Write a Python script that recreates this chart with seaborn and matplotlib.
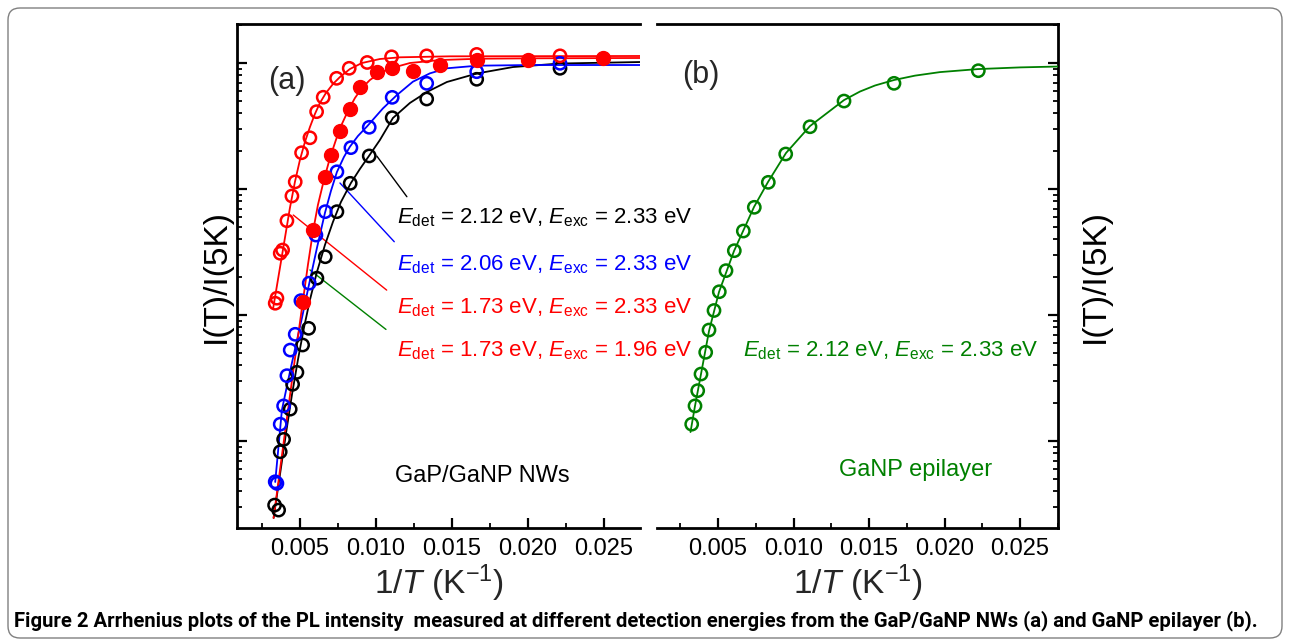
import matplotlib
matplotlib.use('Agg')
import matplotlib.pyplot as plt
from matplotlib.ticker import MultipleLocator, FormatStrFormatter, NullFormatter
from matplotlib.patches import FancyBboxPatch
import seaborn as sns

# x values are 1/T (K^-1), y values are I(T)/I(5K)

# (a) GaP/GaNP NWs, measured points
black_x = [0.003335, 0.003599, 0.003704, 0.003928, 0.004362, 0.004520, 0.004803, 0.005178, 0.005572,
           0.006118, 0.006665, 0.007434, 0.008309, 0.00956, 0.01107, 0.01334, 0.01663, 0.02211]
black_y = [0.00031, 0.000283, 0.000822, 0.00103, 0.00179, 0.00282, 0.00351, 0.00578, 0.00784,
           0.0196, 0.0290, 0.0661, 0.111, 0.183, 0.368, 0.518, 0.743, 0.908]

blue_x = [0.003375, 0.003487, 0.003704, 0.003928, 0.004145, 0.004362, 0.004691, 0.005066, 0.005612,
          0.006053, 0.006665, 0.007434, 0.008355, 0.00956, 0.01107, 0.01334, 0.01663, 0.02211]
blue_y = [0.000475, 0.000461, 0.00136, 0.0019, 0.0033, 0.00527, 0.00703, 0.0130, 0.0179,
          0.0431, 0.0661, 0.137, 0.213, 0.309, 0.534, 0.690, 0.853, 0.995]

red_open_x = [0.003375, 0.003487, 0.003704, 0.003862, 0.004145, 0.004474, 0.004691, 0.00511, 0.005658,
              0.006099, 0.006533, 0.007414, 0.008243, 0.009428, 0.01103, 0.01334, 0.01663, 0.02211]
red_open_y = [0.0124, 0.0136, 0.0309, 0.0328, 0.0560, 0.0880, 0.114, 0.194, 0.255,
              0.411, 0.535, 0.756, 0.908, 1.01, 1.12, 1.14, 1.17, 1.14]

red_fill_x = [0.005178, 0.005836, 0.006665, 0.00704, 0.007632, 0.008289, 0.008947, 0.01005, 0.01103,
              0.01241, 0.01421, 0.01663, 0.01998, 0.02492]
red_fill_y = [0.0128, 0.0473, 0.125, 0.186, 0.290, 0.429, 0.648, 0.844, 0.908,
              0.869, 0.964, 1.06, 1.06, 1.10]

# (a) fitted curves
black_fit_x = [0.00327, 0.003684, 0.004079, 0.004474, 0.004868, 0.005263, 0.005658, 0.006118, 0.006645,
               0.007171, 0.007697, 0.008355, 0.008947, 0.00954, 0.010263, 0.011118, 0.012237, 0.013355,
               0.014671, 0.016645, 0.019013, 0.022105, 0.02737]
black_fit_y = [0.000245, 0.000537, 0.001137, 0.002318, 0.004395, 0.00789, 0.01316, 0.0219, 0.0359,
               0.0547, 0.0788, 0.1116, 0.1442, 0.1828, 0.245, 0.366, 0.482, 0.589,
               0.707, 0.826, 0.929, 0.991, 1.018]

blue_fit_x = [0.003375, 0.003816, 0.004342, 0.004737, 0.005132, 0.005592, 0.006118, 0.006645, 0.00704,
              0.007434, 0.007895, 0.008289, 0.008816, 0.009408, 0.010461, 0.011382, 0.012434, 0.013553,
              0.014671, 0.016645, 0.020132, 0.02737]
blue_fit_y = [0.000473, 0.001762, 0.003531, 0.00578, 0.00946, 0.0173, 0.0340, 0.0645, 0.0964,
              0.1364, 0.1795, 0.2167, 0.2634, 0.3133, 0.4365, 0.557, 0.711, 0.828,
              0.908, 0.952, 0.964, 0.964]

red_open_fit_x = [0.003243, 0.003684, 0.004013, 0.004342, 0.004671, 0.005, 0.005329, 0.005658, 0.005987,
                  0.006316, 0.006711, 0.007171, 0.007632, 0.008289, 0.009079, 0.010263, 0.011579, 0.014868,
                  0.02737]
red_open_fit_y = [0.01137, 0.0236, 0.0408, 0.0707, 0.1137, 0.1699, 0.236, 0.310, 0.394,
                  0.482, 0.578, 0.681, 0.774, 0.896, 1.0, 1.076, 1.11, 1.13,
                  1.137]

red_fill_fit_x = [0.00327, 0.004013, 0.004671, 0.005178, 0.005526, 0.005855, 0.006184, 0.006579, 0.006974,
                  0.007368, 0.007763, 0.008158, 0.008618, 0.009079, 0.009605, 0.010263, 0.011053, 0.012237,
                  0.014211, 0.016842, 0.020789, 0.02737]
red_fill_fit_y = [0.000245, 0.001157, 0.00448, 0.01245, 0.02494, 0.0456, 0.0747, 0.1178, 0.1762,
                  0.245, 0.328, 0.416, 0.527, 0.633, 0.733, 0.833, 0.913, 1.0,
                  1.056, 1.082, 1.09, 1.096]

# (b) GaNP epilayer
green_x = [0.003258, 0.003477, 0.003656, 0.003874, 0.004185, 0.004404, 0.004735, 0.005086, 0.00553,
           0.00608, 0.006676, 0.007404, 0.008331, 0.009484, 0.011093, 0.013345, 0.016656, 0.02224]
green_y = [0.00136, 0.0019, 0.00251, 0.0034, 0.00506, 0.0076, 0.01086, 0.0153, 0.0225,
           0.0324, 0.0464, 0.0716, 0.113, 0.1896, 0.312, 0.499, 0.690, 0.869]

green_fit_x = [0.003179, 0.003477, 0.003874, 0.004404, 0.005066, 0.00606, 0.007384, 0.008311, 0.009503,
               0.011093, 0.013345, 0.014405, 0.015398, 0.016656, 0.018047, 0.019702, 0.02222, 0.025,
               0.02752]
green_fit_y = [0.001178, 0.0019, 0.0034, 0.00746, 0.01523, 0.0322, 0.0720, 0.1137, 0.193,
               0.316, 0.508, 0.594, 0.663, 0.733, 0.794, 0.847, 0.895, 0.923,
               0.938]

labels_a = [r'$E_{\rm det}$ = 2.12 eV, $E_{\rm exc}$ = 2.33 eV',
            r'$E_{\rm det}$ = 2.06 eV, $E_{\rm exc}$ = 2.33 eV',
            r'$E_{\rm det}$ = 1.73 eV, $E_{\rm exc}$ = 2.33 eV',
            r'$E_{\rm det}$ = 1.73 eV, $E_{\rm exc}$ = 1.96 eV']
label_b = r'$E_{\rm det}$ = 2.12 eV, $E_{\rm exc}$ = 2.33 eV'
caption = ('Figure 2 Arrhenius plots of the PL intensity  measured at different detection energies '
           'from the GaP/GaNP NWs (a) and GaNP epilayer (b).')

RED = '#ff0000'
BLUE = '#0000ff'
GREEN = '#008000'


def style_axis(ax, side):
	ax.set_yscale('log')
	ax.set_ylim(2.04e-4, 2.04)
	ax.xaxis.set_major_locator(MultipleLocator(0.005))
	ax.xaxis.set_minor_locator(MultipleLocator(0.0025))
	ax.xaxis.set_major_formatter(FormatStrFormatter('%.3f'))
	ax.yaxis.set_major_formatter(NullFormatter())
	ax.yaxis.set_minor_formatter(NullFormatter())
	for s in ax.spines.values():
		s.set_linewidth(2.0)
		s.set_color('black')
	ax.tick_params(which='both', direction='in', top=False, bottom=True,
	               left=(side == 'left'), right=(side == 'right'),
	               labelleft=False, labelright=False, labelsize=17, colors='black', pad=7)
	ax.tick_params(which='major', length=7.5, width=1.6)
	ax.tick_params(which='minor', length=3.8, width=1.3)
	ax.set_xlabel(r'1/$T$ (K$^{-1}$)', fontsize=24, labelpad=2)
	ax.grid(False)


def open_pts(ax, x, y, color):
	sns.scatterplot(x=x, y=y, ax=ax, marker='o', s=78, facecolor='none',
	                edgecolor=color, linewidth=1.8, zorder=4)


def fit_line(ax, x, y, color):
	sns.lineplot(x=x, y=y, ax=ax, color=color, lw=1.3, sort=False, estimator=None, zorder=3)


def main():
	sns.set_theme(style='ticks')
	plt.rcParams['font.family'] = ['Liberation Sans', 'DejaVu Sans']
	plt.rcParams['mathtext.fontset'] = 'custom'
	plt.rcParams['mathtext.rm'] = 'Liberation Sans'
	plt.rcParams['mathtext.it'] = 'Liberation Sans:italic'
	plt.rcParams['mathtext.bf'] = 'Liberation Sans:bold'

	fig = plt.figure(figsize=(12.9, 6.4), dpi=100)
	fig.patch.set_facecolor('white')
	ax1 = fig.add_axes([0.1837, 0.175, 0.3124, 0.7875])
	ax2 = fig.add_axes([0.5093, 0.175, 0.3109, 0.7875])
	ax1.patch.set_visible(False)
	ax2.patch.set_visible(False)

	# panel (a)
	ax1.set_yscale('log')
	fit_line(ax1, black_fit_x, black_fit_y, 'black')
	fit_line(ax1, blue_fit_x, blue_fit_y, BLUE)
	fit_line(ax1, red_open_fit_x, red_open_fit_y, RED)
	fit_line(ax1, red_fill_fit_x, red_fill_fit_y, RED)
	open_pts(ax1, black_x, black_y, 'black')
	open_pts(ax1, blue_x, blue_y, BLUE)
	open_pts(ax1, red_open_x, red_open_y, RED)
	sns.scatterplot(x=red_fill_x, y=red_fill_y, ax=ax1, marker='o', s=100,
	                facecolor=RED, edgecolor=RED, linewidth=1.0, zorder=5)
	style_axis(ax1, 'left')
	ax1.set_xlim(0.00086, 0.02737)
	ax1.spines['right'].set_visible(False)
	ax1.set_ylabel('I(T)/I(5K)', fontsize=24, labelpad=4, color='black')

	ann_colors = ['black', BLUE, RED, RED]
	ann_y = [0.605, 0.512, 0.425, 0.341]
	for lab, c, yy in zip(labels_a, ann_colors, ann_y):
		ax1.text(0.396, yy, lab, transform=ax1.transAxes, fontsize=16, color=c,
		         ha='left', va='baseline', zorder=6, clip_on=False)
	pointer_lines = [
		('black', (0.347, 0.738), (0.4216, 0.6573)),
		(BLUE, (0.2556, 0.6845), (0.3903, 0.568)),
		(RED, (0.1397, 0.621), (0.3715, 0.472)),
		(GREEN, (0.1811, 0.512), (0.3697, 0.394)),
	]
	for c, p0, p1 in pointer_lines:
		ax1.plot([p0[0], p1[0]], [p0[1], p1[1]], transform=ax1.transAxes, color=c, lw=1.0, zorder=2)
	ax1.text(0.1228, 0.887, '(a)', transform=ax1.transAxes, fontsize=22, ha='center', va='center')
	ax1.text(0.608, 0.092, 'GaP/GaNP NWs', transform=ax1.transAxes, fontsize=17,
	         ha='center', va='baseline', color='black')

	# panel (b)
	ax2.set_yscale('log')
	fit_line(ax2, green_fit_x, green_fit_y, GREEN)
	open_pts(ax2, green_x, green_y, GREEN)
	style_axis(ax2, 'right')
	ax2.set_xlim(0.00096, 0.02752)
	ax2.spines['left'].set_visible(False)
	ax2.yaxis.set_label_position('right')
	ax2.set_ylabel('I(T)/I(5K)', fontsize=24, labelpad=16, color='black')
	ax2.text(0.2145, 0.341, label_b, transform=ax2.transAxes, fontsize=16, color=GREEN,
	         ha='left', va='baseline')
	ax2.text(0.1097, 0.899, '(b)', transform=ax2.transAxes, fontsize=22, ha='center', va='center')
	ax2.text(0.645, 0.103, 'GaNP epilayer', transform=ax2.transAxes, fontsize=17,
	         ha='center', va='baseline', color=GREEN)

	# caption, scaled to span the same width as in the original
	cap = fig.text(14 / 1290, 1 - 621 / 640, caption, fontsize=13, fontweight='bold',
	               family=['Liberation Sans Narrow', 'Roboto', 'DejaVu Sans'],
	               ha='left', va='center', color='black')
	renderer = fig.canvas.get_renderer()
	w = cap.get_window_extent(renderer).width
	cap.set_fontsize(13 * 1243 / w)

	frame = FancyBboxPatch((8, 2), 1274, 630, boxstyle='round,pad=0,rounding_size=12',
	                       transform=None, fill=False, edgecolor='#808080', linewidth=1.0)
	fig.add_artist(frame)

	fig.savefig('out.png', dpi=100, facecolor='white')
	plt.close(fig)


if __name__ == '__main__':
	main()
